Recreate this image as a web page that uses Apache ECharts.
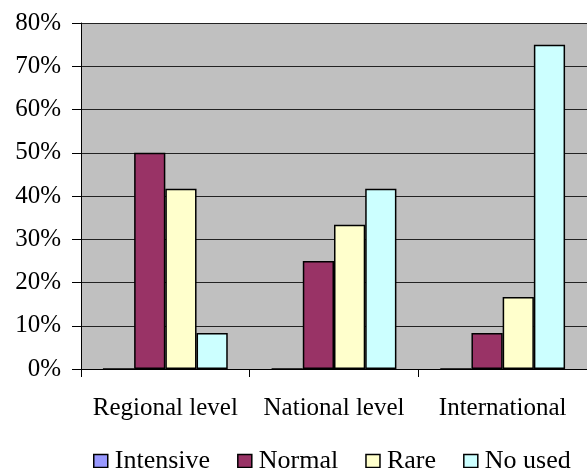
<!DOCTYPE html>
<html>
<head>
<meta charset="utf-8">
<script src="https://cdn.jsdelivr.net/npm/echarts@6/dist/echarts.min.js"></script>
<style>
html,body{margin:0;padding:0;background:#fff;}
#c{width:587px;height:468px;}
</style>
</head>
<body>
<div id="c"></div>
<script>
const categories = ['Regional level', 'National level', 'International'];
const seriesNames = ['Intensive', 'Normal', 'Rare', 'No used'];
const intensive = [0, 0, 0];
const normal = [50, 25, 8.33];
const rare = [41.67, 33.33, 16.67];
const noUsed = [8.33, 41.67, 75];
const yTicks = [0, 10, 20, 30, 40, 50, 60, 70, 80];
const colors = ['#9999FF', '#993366', '#FFFFCC', '#CCFFFF'];

const font = 'Liberation Serif, Times New Roman, serif';
const chart = echarts.init(document.getElementById('c'), null, {renderer: 'canvas'});
const seriesData = [intensive, normal, rare, noUsed];

chart.setOption({
  animation: false,
  backgroundColor: '#ffffff',
  color: colors,
  grid: {
    left: 81, right: 0, top: 23, bottom: 99,
    show: true, backgroundColor: '#C0C0C0', borderWidth: 0
  },
  legend: {
    left: 88, top: 443,
    itemWidth: 14, itemHeight: 13, itemGap: 27,
    icon: 'rect',
    data: seriesNames,
    itemStyle: {borderColor: '#000', borderWidth: 1.5},
    textStyle: {fontFamily: font, fontSize: 26, color: '#000', padding: [0, 0, 0, 2]}
  },
  xAxis: {
    type: 'category',
    data: categories,
    axisLine: {lineStyle: {color: '#000', width: 1}},
    axisTick: {show: true, length: 8, lineStyle: {color: '#000'}},
    axisLabel: {interval: 0, margin: 27, fontFamily: font, fontSize: 25, color: '#000'}
  },
  yAxis: {
    type: 'value',
    min: yTicks[0], max: yTicks[yTicks.length - 1], interval: 10,
    axisLine: {show: true, lineStyle: {color: '#000', width: 1}},
    axisTick: {show: true, length: 9, lineStyle: {color: '#000'}},
    axisLabel: {formatter: '{value}%', margin: 20, fontFamily: font, fontSize: 25, color: '#000'},
    splitLine: {show: true, lineStyle: {color: '#222', width: 1}}
  },
  series: seriesNames.map((n, i) => ({
    name: n,
    type: 'bar',
    data: seriesData[i],
    barGap: '0%',
    barCategoryGap: '26%',
    itemStyle: {color: colors[i], borderColor: '#000', borderWidth: 1.5}
  }))
});
</script>
</body>
</html>
